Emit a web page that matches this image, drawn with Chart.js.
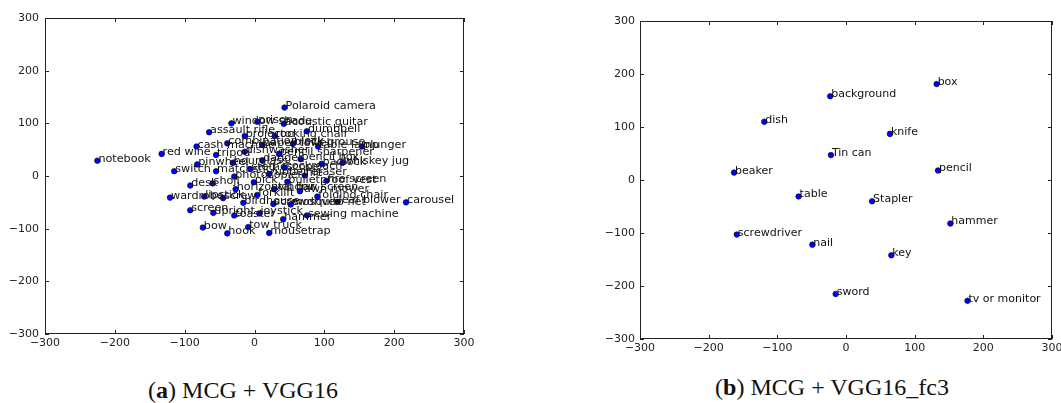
<!DOCTYPE html>
<html>
<head>
<meta charset="utf-8">
<script src="https://cdn.jsdelivr.net/npm/chart.js@4.4.1/dist/chart.umd.min.js"></script>
<style>
  body { margin: 0; background: #fff; width: 1061px; height: 403px; position: relative; overflow: hidden; }
  .box { position: absolute; }
  .cap { position: absolute; font-family: "Liberation Serif", serif; font-size: 24px; line-height: 24px;
         color: #111; white-space: nowrap; transform: translateX(-50%); }
</style>
</head>
<body>
<div class="box" style="left:0;top:0"><canvas id="chartA" width="500" height="360"></canvas></div>
<div class="box" style="left:560px;top:0"><canvas id="chartB" width="501" height="370"></canvas></div>
<div class="cap" style="left:243px;top:378px">(<b>a</b>) MCG + VGG16</div>
<div class="cap" style="left:832px;top:375px">(<b>b</b>) MCG + VGG16_fc3</div>

<script>
// (a) MCG + VGG16
const namesA = ['notebook', 'red wine', 'switch', 'desk', 'wardrobe', 'screen', 'bow', 'hook',
  'tow truck', 'mousetrap', 'hammer', 'sewing machine', 'joystick', 'upright', 'toaster',
  'carousel', 'leaf blower', 'folding chair', 'mosquito net', 'screwdriver', 'birdhouse',
  'forklift', 'screw', 'lipstick', 'horizontal bar', 'window screen', 'lawn mower', 'shoji',
  'pick', 'bulletproof vest', 'fire screen', 'photocopier', 'file', 'rubber eraser',
  'matchstick', 'stethoscope', 'pinwheel', 'hourglass', 'cockroach', 'padlock', 'pencil box',
  'dagger', 'pencil sharpener', 'whiskey jug', 'dishwasher', 'tripod', 'cash machine',
  'combination lock', 'paper towel', 'black grouse', 'table lamp', 'plunger', 'projector',
  'rocking chair', 'assault rifle', 'dumbbell', 'window shade', 'prison', 'acoustic guitar',
  'Polaroid camera'];
const xA = [-225, -133, -115, -92, -121, -92, -74, -39,
  -9, 21, 41, 75, 7, -59, -29,
  217, 119, 90, 52, 27, -16,
  4, -45, -72, -27, 28, 65, -60,
  -1, 47, 103, -29, 72, 21,
  -55, -6, -82, -31, 43, 96, 66,
  11, 35, 126, -14, -55, -83,
  -39, 11, 55, 91, 154, -14,
  29, -65, 75, -33, 4, 42,
  43];
const yA = [29, 42, 9, -18, -41, -65, -98, -109,
  -97, -108, -82, -75, -71, -70, -75,
  -50, -49, -39, -54, -53, -51,
  -36, -42, -39, -25, -25, -29, -14,
  -12, -11, -9, -1, 1, 4,
  9, 13, 22, 25, 16, 23, 32,
  30, 42, 25, 46, 40, 56,
  62, 59, 61, 56, 56, 76,
  76, 83, 85, 100, 103, 99,
  130];

// (b) MCG + VGG16_fc3
const namesB = ['box', 'background', 'dish', 'knife', 'Tin can', 'beaker', 'pencil', 'table',
  'Stapler', 'hammer', 'screwdriver', 'nail', 'key', 'sword', 'tv or monitor'];
const xB = [132, -23, -119, 64, -22, -163, 134, -69, 38, 152, -159, -49, 66, -15, 177];
const yB = [181, 158, 110, 87, 47, 14, 18, -31, -40, -82, -103, -122, -142, -215, -228];

const tickValues = [-300, -200, -100, 0, 100, 200, 300];

const tickFont = { family: 'DejaVu Sans', size: 11 };
const minus = v => String(v).replace('-', '\u2212');

// point labels, box frame and inward tick marks, all placed through the chart scales
const annotate = {
  id: 'annotate',
  afterDatasetsDraw(chart, args, opts) {
    const ctx = chart.ctx;
    const xs = chart.scales.x, ys = chart.scales.y;
    const area = chart.chartArea;
    ctx.save();
    ctx.font = opts.size + 'px "DejaVu Sans"';
    ctx.fillStyle = '#111';
    ctx.textBaseline = 'alphabetic';
    chart.getDatasetMeta(0).data.forEach((pt, i) => {
      ctx.fillText(opts.names[i], pt.x + 1, pt.y + 1);
    });
    ctx.strokeStyle = '#222';
    ctx.lineWidth = 1;
    ctx.strokeRect(Math.round(area.left) + 0.5, Math.round(area.top) + 0.5,
      Math.round(area.right - area.left) - 1, Math.round(area.bottom - area.top) - 1);
    ctx.beginPath();
    tickValues.forEach(t => {
      const px = Math.round(xs.getPixelForValue(t)) + 0.5;
      ctx.moveTo(px, area.bottom); ctx.lineTo(px, area.bottom - 4);
      ctx.moveTo(px, area.top); ctx.lineTo(px, area.top + 4);
      const py = Math.round(ys.getPixelForValue(t)) + 0.5;
      ctx.moveTo(area.left, py); ctx.lineTo(area.left + 4, py);
      ctx.moveTo(area.right, py); ctx.lineTo(area.right - 4, py);
    });
    ctx.stroke();
    ctx.restore();
  }
};

function makeChart(id, names, xs, ys, dims) {
  return new Chart(document.getElementById(id), {
    type: 'scatter',
    data: {
      datasets: [{
        data: names.map((n, i) => ({ x: xs[i], y: ys[i] })),
        pointRadius: 2.8,
        backgroundColor: '#0000ff',
        borderColor: '#000',
        borderWidth: 0.6
      }]
    },
    options: {
      responsive: false,
      animation: false,
      layout: { padding: { top: dims.top, right: dims.right, bottom: 0, left: 0 } },
      plugins: {
        legend: { display: false },
        tooltip: { enabled: false },
        annotate: { names: names, size: dims.label }
      },
      scales: {
        x: {
          type: 'linear', min: -300, max: 300,
          ticks: { stepSize: 100, padding: 3, color: '#222', font: tickFont, maxRotation: 0, callback: minus },
          grid: { display: false, drawTicks: false },
          border: { display: false },
          afterFit(s) { s.height = dims.xh; s.paddingLeft = 0; s.paddingRight = 0; }
        },
        y: {
          type: 'linear', min: -300, max: 300,
          ticks: { stepSize: 100, padding: dims.ypad, color: '#222', font: tickFont, callback: minus },
          grid: { display: false, drawTicks: false },
          border: { display: false },
          afterFit(s) { s.width = dims.yw; s.paddingTop = 0; s.paddingBottom = 0; }
        }
      }
    },
    plugins: [annotate]
  });
}

makeChart('chartA', namesA, xA, yA, { top: 18, right: 36, xh: 26, yw: 45, ypad: 6, label: 11.2 });
makeChart('chartB', namesB, xB, yB, { top: 21, right: 9, xh: 31, yw: 80, ypad: 5, label: 11 });
</script>
</body>
</html>
